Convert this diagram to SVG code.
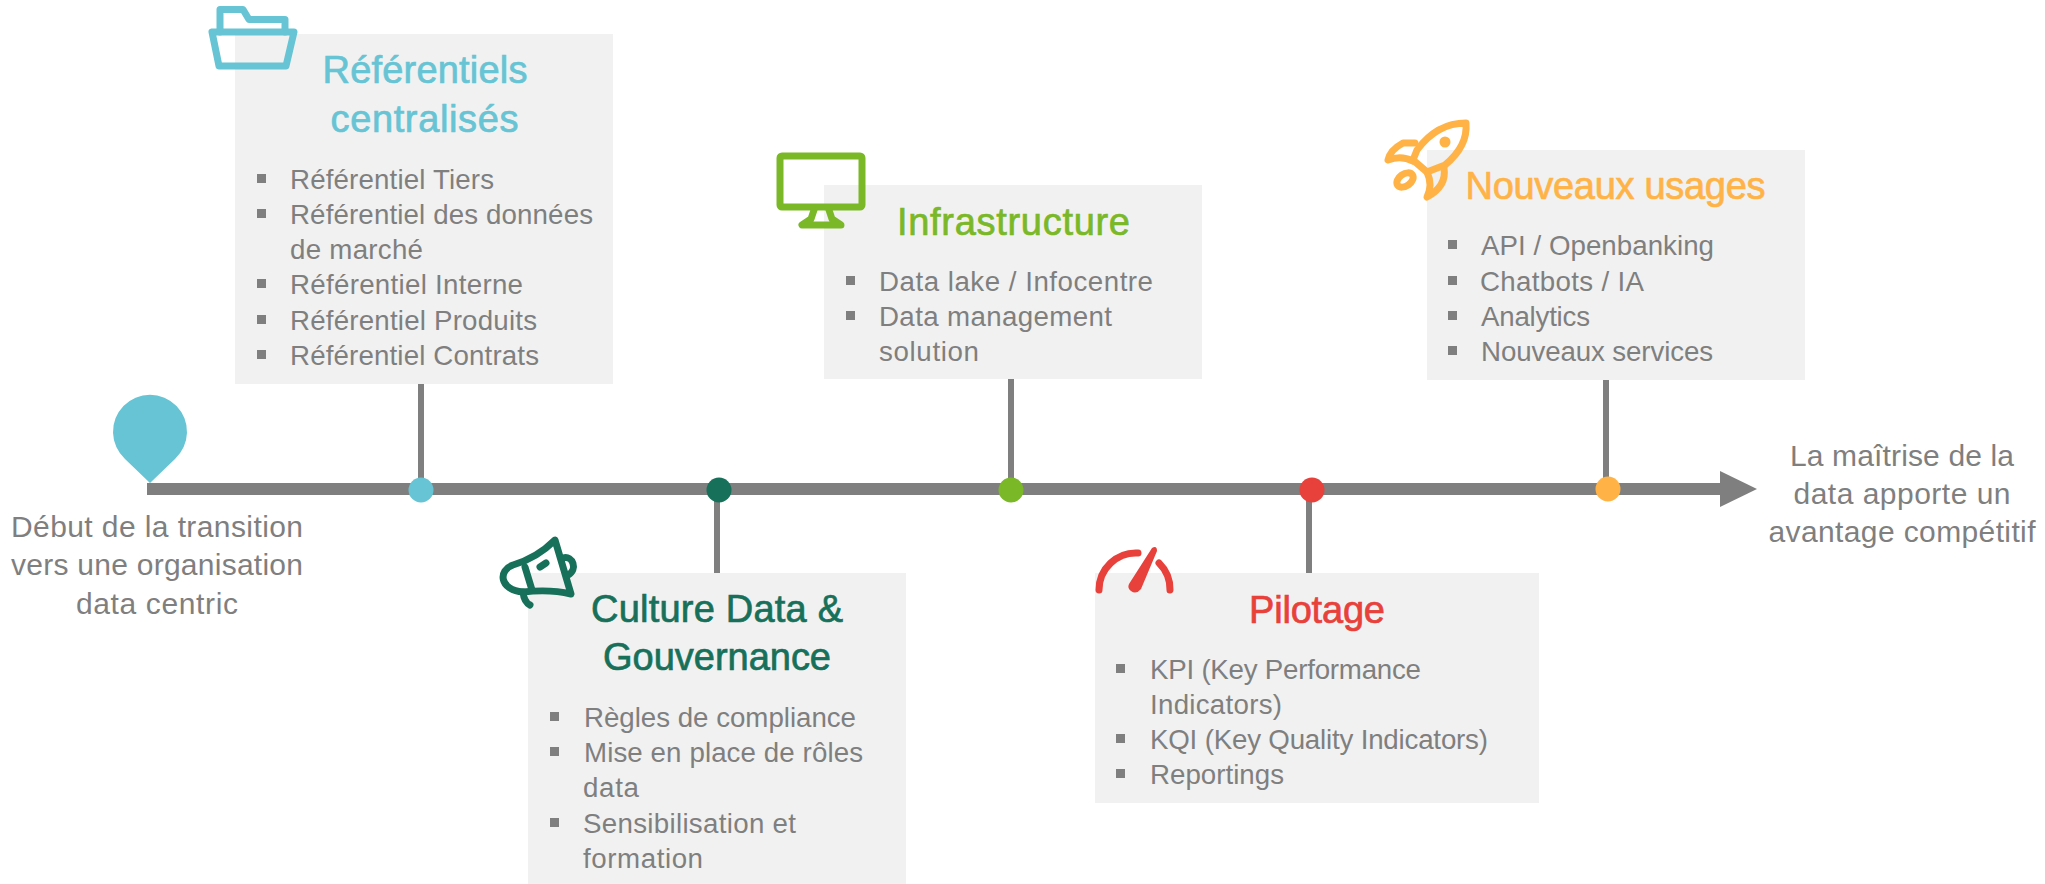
<svg xmlns="http://www.w3.org/2000/svg" width="2045" height="884" viewBox="0 0 2045 884">
<defs>
<style>
text{font-family:"Liberation Sans",Arial,sans-serif}
.box{fill:#f1f1f1}
.b{font-size:27.7px;fill:#7f7f7f}
.t{font-size:38px;text-anchor:middle;stroke-width:.7px}
.n{font-size:30px;fill:#7f7f7f;text-anchor:middle}
.bu{fill:#7f7f7f}
.ic{fill:none;stroke-width:7;stroke-linecap:round;stroke-linejoin:round}
.stem{stroke:#7f7f7f;stroke-width:6;fill:none}
</style>
<rect id="sq" width="9" height="9"/>
</defs>
<g id="connectors">
<line class="stem" x1="421" y1="384" x2="421" y2="490"/>
<line class="stem" x1="717" y1="490" x2="717" y2="573"/>
<line class="stem" x1="1011" y1="379" x2="1011" y2="490"/>
<line class="stem" x1="1309" y1="490" x2="1309" y2="573"/>
<line class="stem" x1="1606" y1="380" x2="1606" y2="490"/>
<rect x="147" y="483" width="1574" height="12" fill="#7f7f7f"/>
<polygon points="1720,471 1757,489 1720,507" fill="#7f7f7f"/>
</g>
<g id="start">
<path d="M150,483 L125,459 A37,37 0 1 1 175,459 Z" fill="#66c4d4"/>
<text class="n" x="157" y="537" textLength="292">Début de la transition</text>
<text class="n" x="157" y="575" textLength="292">vers une organisation</text>
<text class="n" x="157" y="614" textLength="162">data centric</text>
</g>
<g id="end">
<text class="n" x="1902" y="466" textLength="224">La maîtrise de la</text>
<text class="n" x="1902" y="504" textLength="217">data apporte un</text>
<text class="n" x="1902" y="542" textLength="267">avantage compétitif</text>
</g>
<g id="referentiels">
<rect class="box" x="235" y="34" width="378" height="350"/>
<g class="ic" stroke="#66c4d4">
<path d="M220,32 V9.500 H243 L249,19.500 H285 V32"/>
<path d="M212,32 H294 L286,66 H219 Z"/>
</g>
<circle cx="421" cy="490" r="12.500" fill="#66c4d4"/>
<text class="t" fill="#66c4d4" stroke="#66c4d4" x="425" y="83" textLength="205">Référentiels</text>
<text class="t" fill="#66c4d4" stroke="#66c4d4" x="424.500" y="132" textLength="188">centralisés</text>
<g class="bu"><use href="#sq" x="257" y="174"/><use href="#sq" x="257" y="209"/><use href="#sq" x="257" y="279"/><use href="#sq" x="257" y="315"/><use href="#sq" x="257" y="350"/></g>
<text class="b" x="290" y="189" textLength="204">Référentiel Tiers</text>
<text class="b" x="290" y="224" textLength="303">Référentiel des données</text>
<text class="b" x="290" y="259" textLength="133">de marché</text>
<text class="b" x="290" y="294" textLength="233">Référentiel Interne</text>
<text class="b" x="290" y="330" textLength="247">Référentiel Produits</text>
<text class="b" x="290" y="365" textLength="249">Référentiel Contrats</text>
</g>
<g id="culture">
<rect class="box" x="528" y="573" width="378" height="311"/>
<g class="ic" stroke="#17705a">
<path d="M555,540 Q537,558 513,565 C498,570 499,590 523,592 Q550,589 571,594 Z"/>
<path d="M525,567 L532,590"/>
<path d="M523,592 Q524,602 530,605"/>
<path d="M540,567 L546,563"/>
<path d="M563,558 C573,555 578,570 568,575"/>
</g>
<circle cx="719" cy="490" r="12.500" fill="#17705a"/>
<text class="t" fill="#17705a" stroke="#17705a" x="717" y="622" textLength="252">Culture Data &amp;</text>
<text class="t" fill="#17705a" stroke="#17705a" x="717" y="670" textLength="228">Gouvernance</text>
<g class="bu"><use href="#sq" x="550" y="712"/><use href="#sq" x="550" y="747"/><use href="#sq" x="550" y="818"/></g>
<text class="b" x="584" y="727" textLength="272">Règles de compliance</text>
<text class="b" x="584" y="762" textLength="279">Mise en place de rôles</text>
<text class="b" x="583" y="797" textLength="56">data</text>
<text class="b" x="583" y="833" textLength="213">Sensibilisation et</text>
<text class="b" x="583" y="868" textLength="120">formation</text>
</g>
<g id="infrastructure">
<rect class="box" x="824" y="185" width="378" height="194"/>
<g class="ic" stroke="#7ab828">
<rect x="780" y="156" width="82" height="51" rx="2"/>
<path d="M814,210 L811,219 L802,225 H841 L832,219 L829,210"/>
</g>
<circle cx="1011" cy="490" r="12.500" fill="#7ab828"/>
<text class="t" fill="#7ab828" stroke="#7ab828" x="1013.500" y="235" textLength="233">Infrastructure</text>
<g class="bu"><use href="#sq" x="846" y="276"/><use href="#sq" x="846" y="311"/></g>
<text class="b" x="879" y="291" textLength="274">Data lake / Infocentre</text>
<text class="b" x="879" y="326" textLength="233">Data management</text>
<text class="b" x="879" y="361" textLength="100">solution</text>
</g>
<g id="pilotage">
<rect class="box" x="1095" y="573" width="444" height="230"/>
<g class="ic" stroke="#e8403a">
<path d="M1099,590 A37,37 0 0 1 1138,553"/>
<path d="M1159,563 A37,37 0 0 1 1170,590"/>
</g>
<path d="M1152,548 Q1157,545 1157,551 L1141,589 Q1136,595 1131,591 Q1127,588 1129,584 Z" fill="#e8403a"/>
<circle cx="1312" cy="490" r="12.500" fill="#e8403a"/>
<text class="t" fill="#e8403a" stroke="#e8403a" x="1317" y="623" textLength="136">Pilotage</text>
<g class="bu"><use href="#sq" x="1116" y="664"/><use href="#sq" x="1116" y="734"/><use href="#sq" x="1116" y="769"/></g>
<text class="b" x="1150" y="679" textLength="271">KPI (Key Performance</text>
<text class="b" x="1150" y="714" textLength="132">Indicators)</text>
<text class="b" x="1150" y="749" textLength="338">KQI (Key Quality Indicators)</text>
<text class="b" x="1150" y="784" textLength="134">Reportings</text>
</g>
<g id="usages">
<rect class="box" x="1427" y="150" width="378" height="230"/>
<g class="ic" stroke="#ffb347">
<path d="M1466,123 Q1437,123 1417,150 L1413,160 L1427,172 L1445,165 Q1468,146 1466,123 Z"/>
<path d="M1415,143 H1403 Q1390,150 1388,160 Q1401,155 1413,161"/>
<path d="M1444,168 Q1447,186 1427,197 Q1433,185 1427,172"/>
<ellipse cx="1405" cy="180" rx="9" ry="6" transform="rotate(-35 1405 180)"/>
</g>
<circle cx="1445" cy="142" r="5.500" fill="#ffb347"/>
<circle cx="1608" cy="489" r="12.500" fill="#ffb347"/>
<text class="t" fill="#ffb347" stroke="#ffb347" x="1615.500" y="199" textLength="300">Nouveaux usages</text>
<g class="bu"><use href="#sq" x="1448" y="240"/><use href="#sq" x="1448" y="276"/><use href="#sq" x="1448" y="311"/><use href="#sq" x="1448" y="346"/></g>
<text class="b" x="1481" y="255" textLength="233">API / Openbanking</text>
<text class="b" x="1480" y="291" textLength="164">Chatbots / IA</text>
<text class="b" x="1481" y="326" textLength="109">Analytics</text>
<text class="b" x="1481" y="361" textLength="232">Nouveaux services</text>
</g>
</svg>
